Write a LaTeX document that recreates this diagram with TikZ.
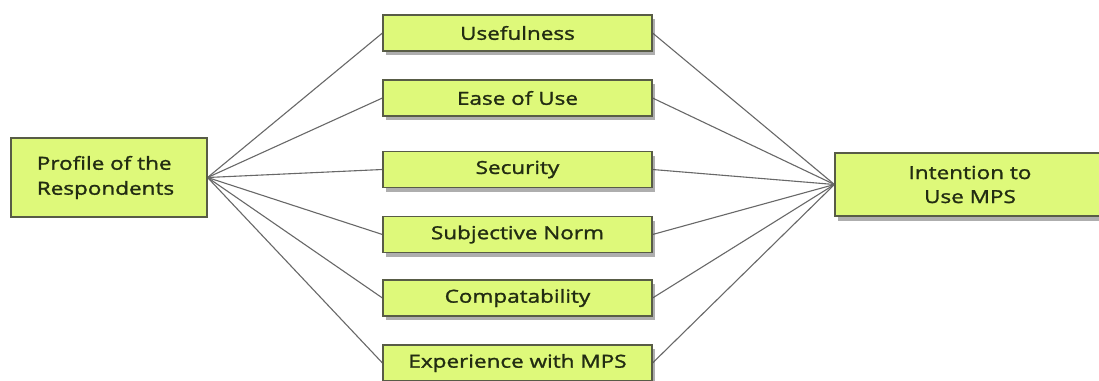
\documentclass[tikz,border=0pt]{standalone}
\usepackage{fontspec}
\newfontfamily\boxfont{Open Sans}[FakeStretch=1.25,FakeBold=1.5]
\usetikzlibrary{shadows,backgrounds}
\definecolor{boxfill}{RGB}{222,249,122}
\definecolor{boxline}{RGB}{88,92,70}
\definecolor{boxtext}{RGB}{34,44,18}
\definecolor{linkgray}{RGB}{104,104,104}
\tikzset{
  factor/.style={draw=boxline, line width=1.1pt, fill=boxfill,
    minimum width=269pt, minimum height=36pt, inner sep=0pt,
    font=\boxfont\fontsize{18}{24}\selectfont, text=boxtext,
    drop shadow={shadow xshift=3pt, shadow yshift=-4pt, opacity=0.45, fill=black!70}},
  profilebox/.style={draw=boxline, line width=1.1pt, fill=boxfill,
    minimum width=196pt, minimum height=79pt, inner sep=0pt,
    font=\boxfont\fontsize{18}{25}\selectfont, text=boxtext, align=left},
  outcome/.style={draw=boxline, line width=1.1pt, fill=boxfill,
    minimum width=270pt, minimum height=63pt, inner sep=0pt,
    font=\boxfont\fontsize{18}{24}\selectfont, text=boxtext, align=center,
    drop shadow={shadow xshift=3pt, shadow yshift=-5pt, opacity=0.45, fill=black!70}},
  link/.style={draw=linkgray, line width=1.1pt}
}
\begin{document}
\begin{tikzpicture}[x=1pt,y=-1pt]
\useasboundingbox (0,0) rectangle (1099,380);
\begin{scope}
\clip (0,0) rectangle (1099,380);
% respondent profile and intention
\node[profilebox] (prof) at (109,177.5) {\hspace*{-7pt}Profile of the\\\hspace*{-7pt}Respondents};
\node[outcome] (intent) at (970,184.5) {Intention to\\Use MPS};
% adoption factors
\node[factor] (f1) at (517.5,33) {Usefulness};
\node[factor] (f2) at (517.5,98) {Ease of Use};
\node[factor] (f3) at (517.5,169.5) {Security};
\node[factor] (f4) at (517.5,234.5) {Subjective Norm};
\node[factor] (f5) at (517.5,298) {Compatability};
\node[factor] (f6) at (517.5,363) {Experience with MPS};
\begin{scope}[on background layer]
\fill[white] (0,0) rectangle (1099,380);
\foreach \f in {f1,f2,f3,f4,f5,f6}{
  \draw[link] (prof.east) -- (\f.west);
  \draw[link] (\f.east) -- (intent.west);
}
\end{scope}
\end{scope}
\end{tikzpicture}
\end{document}
